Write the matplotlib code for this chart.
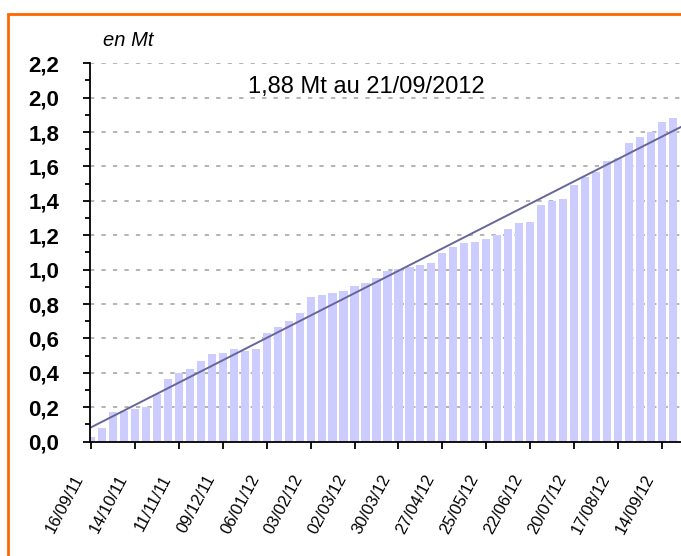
import numpy as np
import matplotlib
matplotlib.use('Agg')
import matplotlib.pyplot as plt
from matplotlib.ticker import MultipleLocator, FuncFormatter
from matplotlib.patches import Rectangle
from matplotlib.transforms import ScaledTranslation

plt.rcParams['font.family'] = ['Liberation Sans', 'DejaVu Sans']

# cumulative tonnage, one bar per week from 16/09/11 to 21/09/12 (Mt)
values = [0.03, 0.078, 0.17, 0.18, 0.19, 0.20, 0.275, 0.365, 0.40, 0.42,
          0.47, 0.51, 0.515, 0.54, 0.53, 0.54, 0.63, 0.665, 0.70, 0.75,
          0.84, 0.853, 0.863, 0.876, 0.905, 0.924, 0.95, 0.99, 1.004, 1.017,
          1.027, 1.037, 1.095, 1.13, 1.153, 1.163, 1.177, 1.20, 1.235, 1.27,
          1.279, 1.376, 1.40, 1.409, 1.492, 1.537, 1.57, 1.632, 1.651, 1.738,
          1.77, 1.80, 1.86, 1.88]
tick_labels = ['16/09/11', '14/10/11', '11/11/11', '09/12/11', '06/01/12',
               '03/02/12', '02/03/12', '30/03/12', '27/04/12', '25/05/12',
               '22/06/12', '20/07/12', '17/08/12', '14/09/12']
tick_step = 4
# trend line read at the left axis and at the right edge
trend_x = [0, 53.76]
trend_y = [0.084, 1.83]
note = '1,88 Mt au 21/09/2012'
unit = 'en Mt'

x = np.arange(len(values))

fig = plt.figure(figsize=(6.81, 5.56), dpi=100)
ax = fig.add_axes([0.1316, 0.2056, 0.8684, 0.6806])

ax.bar(x, values, width=0.75, color='#ccccff', zorder=2)
ax.plot(trend_x, trend_y, color='#666699', lw=1.4, zorder=3)

ax.set_xlim(-0.15, 53.76)
ax.set_ylim(0, 2.2)

ax.yaxis.set_major_locator(MultipleLocator(0.2))
ax.yaxis.set_minor_locator(MultipleLocator(0.1))
ax.yaxis.set_major_formatter(FuncFormatter(lambda v, p: f'{v:.1f}'.replace('.', ',')))
ax.grid(axis='y', which='major', color='#b3b3b3', lw=1.4, linestyle=(0, (2.2, 3.7)), zorder=0)
ax.set_axisbelow(True)

ax.set_xticks(x[::tick_step])
ax.set_xticklabels(tick_labels, rotation=62, ha='right', va='top', rotation_mode='anchor',
                   fontsize=12)
ax.tick_params(axis='x', direction='out', length=5, width=1.3, pad=17)
ax.tick_params(axis='y', which='major', direction='out', length=5, width=1.3, pad=17,
               labelsize=16)
ax.tick_params(axis='y', which='minor', direction='out', length=3.5, width=1.3)
for lab in ax.get_yticklabels():
    lab.set_fontweight('bold')
shift = ScaledTranslation(-18 / 100, 0, fig.dpi_scale_trans)
for lab in ax.get_xticklabels():
    lab.set_transform(lab.get_transform() + shift)

for s in ['top', 'right']:
    ax.spines[s].set_visible(False)
for s in ['left', 'bottom']:
    ax.spines[s].set_linewidth(1.3)
    ax.spines[s].set_zorder(4)

ax.text(25.1, 2.06, note, ha='center', va='center', fontsize=17)
fig.text(103 / 681, 1 - 41 / 556, unit, ha='left', va='center', fontsize=14.5, style='italic')

fig.add_artist(Rectangle((7.7 / 681, -0.1), 1.2, 1.1 - 13.7 / 556, transform=fig.transFigure,
                         fill=False, edgecolor='#ff6600', lw=2))

fig.savefig('out.png', dpi=100)
